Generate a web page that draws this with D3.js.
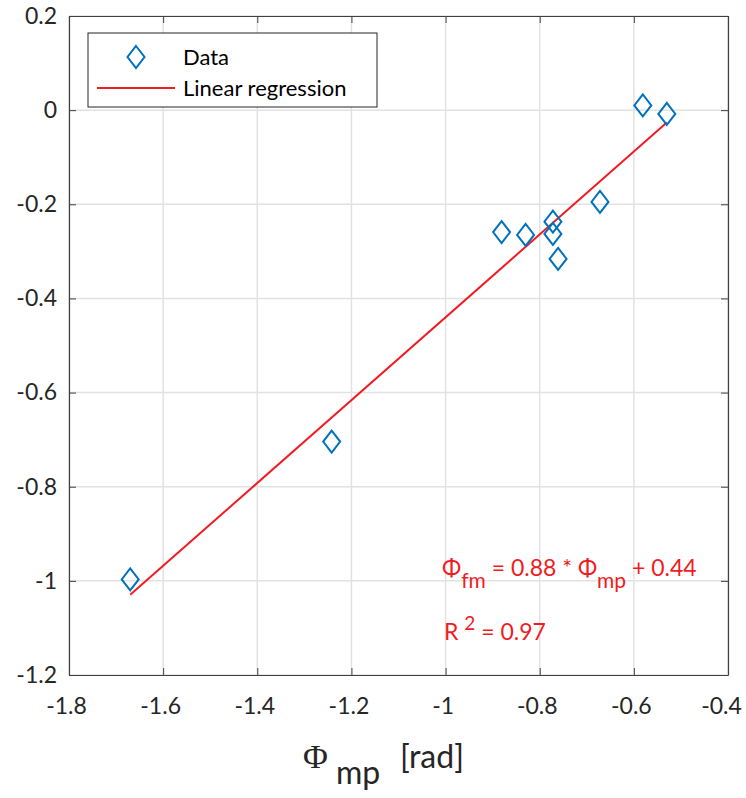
<!DOCTYPE html>
<html lang="en">
<head>
<meta charset="utf-8">
<title></title>
<style>
body { margin: 0; background: #fff; }
svg text { font-family: Lato, "Open Sans", sans-serif; }
.tick text { font-size: 23px; fill: #262626; }
.axis path, .axis line { stroke: #404040; }
.grid line { stroke: #e2e2e2; stroke-width: 1.5; }
</style>
</head>
<body>
<div id="chart"></div>
<script src="https://d3js.org/d3.v7.min.js"></script>
<script>
(function(d3) {
  'use strict';

  // measured phase values
  var phiMp = [-1.670, -1.242, -0.881, -0.830, -0.772, -0.772, -0.761, -0.672, -0.581, -0.530];
  var phiFm = [-0.997, -0.704, -0.259, -0.265, -0.237, -0.263, -0.316, -0.195, 0.010, -0.008];

  // fit
  var slope = 0.88;
  var intercept = 0.44;
  var rSquared = 0.97;

  var xTicks = [-1.8, -1.6, -1.4, -1.2, -1.0, -0.8, -0.6, -0.4];
  var xTickLabels = ['-1.8', '-1.6', '-1.4', '-1.2', '-1', '-0.8', '-0.6', '-0.4'];
  var yTicks = [0.2, 0, -0.2, -0.4, -0.6, -0.8, -1.0, -1.2];
  var yTickLabels = ['0.2', '0', '-0.2', '-0.4', '-0.6', '-0.8', '-1', '-1.2'];

  var width = 746;
  var height = 798;
  var left = 69, right = 728, top = 16, bottom = 675;

  var blue = '#0072bd';
  var red = '#f01c24';

  var x = d3.scaleLinear().domain([-1.8, -0.4]).range([left, right]);
  var y = d3.scaleLinear().domain([-1.2, 0.2]).range([bottom, top]);

  var svg = d3.select('#chart')
    .append('svg')
    .attr('width', width)
    .attr('height', height);

  svg.append('rect')
    .attr('width', width)
    .attr('height', height)
    .attr('fill', '#fff');

  // grid
  var grid = svg.append('g').attr('class', 'grid');
  grid.selectAll('.gx')
    .data(xTicks)
    .enter()
    .append('line')
    .attr('x1', function(d) { return x(d); })
    .attr('x2', function(d) { return x(d); })
    .attr('y1', top)
    .attr('y2', bottom);
  grid.selectAll('.gy')
    .data(yTicks)
    .enter()
    .append('line')
    .attr('x1', left)
    .attr('x2', right)
    .attr('y1', function(d) { return y(d); })
    .attr('y2', function(d) { return y(d); });

  // axes (box with inward ticks)
  var gx = svg.append('g')
    .attr('class', 'axis')
    .attr('transform', 'translate(0,' + bottom + ')')
    .call(d3.axisBottom(x)
      .tickValues(xTicks)
      .tickFormat(function(d, i) { return xTickLabels[i]; })
      .tickSizeInner(-7)
      .tickSizeOuter(0)
      .tickPadding(23));

  // matlab pulls the labels a bit left, the last one more so it stays inside
  gx.selectAll('.tick text')
    .attr('dx', function(d, i) { return i === xTicks.length - 1 ? -7 : -3; });

  svg.append('g')
    .attr('class', 'axis')
    .attr('transform', 'translate(' + left + ',0)')
    .call(d3.axisLeft(y)
      .tickValues(yTicks)
      .tickFormat(function(d, i) { return yTickLabels[i]; })
      .tickSizeInner(-7)
      .tickSizeOuter(0)
      .tickPadding(12));

  svg.append('g')
    .attr('class', 'axis')
    .attr('transform', 'translate(0,' + top + ')')
    .call(d3.axisTop(x)
      .tickValues(xTicks)
      .tickFormat('')
      .tickSizeInner(-7)
      .tickSizeOuter(0));

  svg.append('g')
    .attr('class', 'axis')
    .attr('transform', 'translate(' + right + ',0)')
    .call(d3.axisRight(y)
      .tickValues(yTicks)
      .tickFormat('')
      .tickSizeInner(-7)
      .tickSizeOuter(0));

  svg.selectAll('.axis .domain').attr('stroke-width', 1.2);

  // regression line over the data range
  var xExt = d3.extent(phiMp);
  var line = d3.line()
    .x(function(d) { return x(d); })
    .y(function(d) { return y(slope * d + intercept); });

  svg.append('path')
    .datum(xExt)
    .attr('d', line)
    .attr('fill', 'none')
    .attr('stroke', red)
    .attr('stroke-width', 2);

  // diamond markers
  var diamond = 'M0,-11L8.5,0L0,11L-8.5,0Z';

  svg.selectAll('.pt')
    .data(phiMp)
    .enter()
    .append('path')
    .attr('class', 'pt')
    .attr('d', diamond)
    .attr('transform', function(d, i) {
      return 'translate(' + x(d) + ',' + y(phiFm[i]) + ')';
    })
    .attr('fill', 'none')
    .attr('stroke', blue)
    .attr('stroke-width', 2);

  // legend
  var legend = svg.append('g').attr('class', 'legend');
  legend.append('rect')
    .attr('x', 88)
    .attr('y', 33)
    .attr('width', 289)
    .attr('height', 74)
    .attr('fill', '#fff')
    .attr('stroke', '#262626')
    .attr('stroke-width', 1);
  legend.append('path')
    .attr('d', diamond)
    .attr('transform', 'translate(136,57)')
    .attr('fill', 'none')
    .attr('stroke', blue)
    .attr('stroke-width', 2);
  legend.append('line')
    .attr('x1', 97)
    .attr('x2', 175)
    .attr('y1', 88)
    .attr('y2', 88)
    .attr('stroke', red)
    .attr('stroke-width', 2);
  legend.append('text')
    .attr('x', 183)
    .attr('y', 65)
    .attr('font-size', 22)
    .attr('fill', '#000')
    .text('Data');
  legend.append('text')
    .attr('x', 183)
    .attr('y', 96)
    .attr('font-size', 22)
    .attr('fill', '#000')
    .text('Linear regression');

  // fit annotation
  var eq = svg.append('text')
    .attr('x', 442)
    .attr('y', 576)
    .attr('font-size', 23)
    .attr('fill', red);
  eq.append('tspan').text('\u03A6');
  eq.append('tspan').attr('dy', 12).attr('font-size', 21).text('fm');
  eq.append('tspan').attr('dy', -12).text(' = ' + slope + ' * \u03A6');
  eq.append('tspan').attr('dy', 12).attr('font-size', 21).text('mp');
  eq.append('tspan').attr('dy', -12).text(' + ' + intercept);

  var r2 = svg.append('text')
    .attr('x', 444)
    .attr('y', 640)
    .attr('font-size', 23)
    .attr('fill', red);
  r2.append('tspan').text('R ');
  r2.append('tspan').attr('dy', -10).attr('font-size', 19).text('2');
  r2.append('tspan').attr('dy', 10).text('  = ' + rSquared);

  // x label
  var xl = svg.append('text')
    .attr('x', 303)
    .attr('y', 768)
    .attr('fill', '#262626');
  xl.append('tspan')
    .attr('font-family', '"Liberation Serif", "DejaVu Serif", serif')
    .attr('font-size', 34)
    .text('\u03A6');
  xl.append('tspan')
    .attr('x', 336)
    .attr('dy', 16)
    .attr('font-size', 32)
    .text('mp');
  xl.append('tspan')
    .attr('x', 400)
    .attr('dy', -16)
    .attr('font-size', 32)
    .text('[rad]');

})(window.d3);
</script>
</body>
</html>
